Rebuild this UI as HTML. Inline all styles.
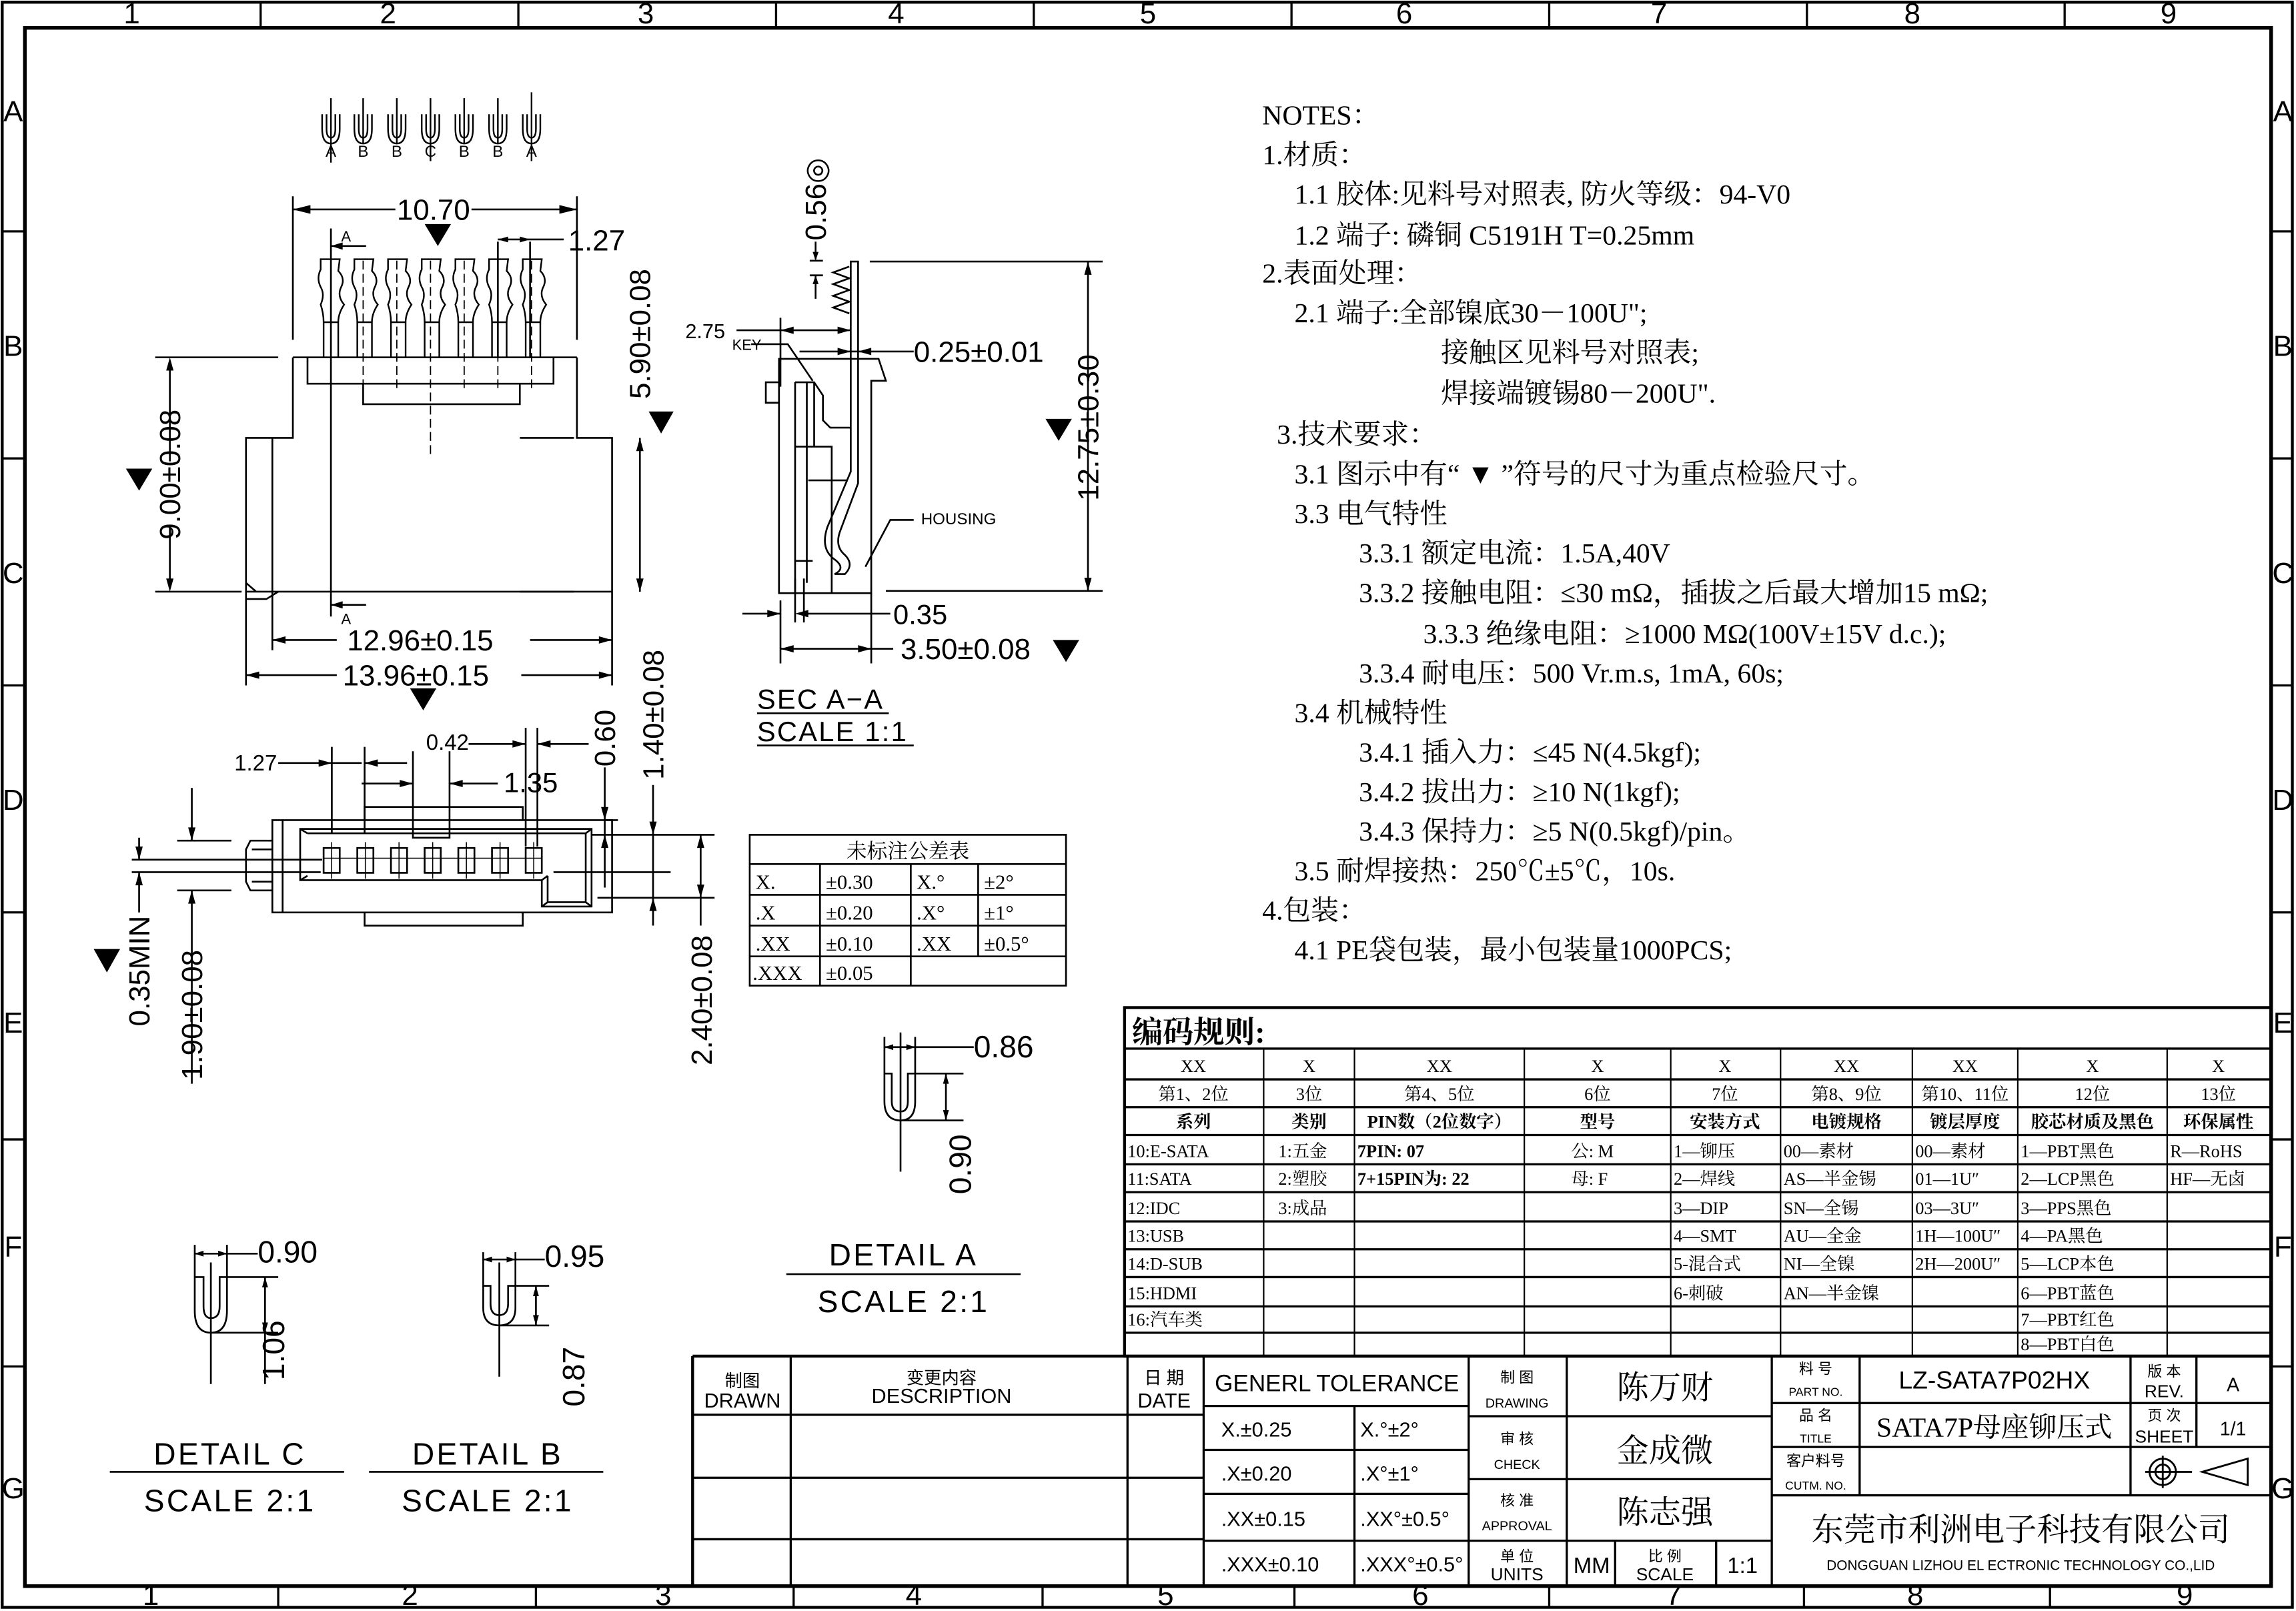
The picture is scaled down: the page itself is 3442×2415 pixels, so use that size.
<!DOCTYPE html>
<html><head><meta charset="utf-8"><style>
html,body{margin:0;padding:0;background:#fff;}
svg{display:block;}
text{fill:#000;}
.d{font-family:"Liberation Sans","DejaVu Sans",sans-serif;font-size:20px;}
.n{font-family:"Liberation Sans Narrow","Liberation Sans",sans-serif;}
.c{font-family:"Liberation Serif","Noto Serif CJK SC","Noto Sans CJK SC",serif;}
.t{font-family:"Liberation Sans Narrow","Liberation Sans","Noto Sans CJK SC",sans-serif;}
</style></head><body>
<svg width="3442" height="2415" viewBox="0 0 1568 1100" preserveAspectRatio="none" xmlns="http://www.w3.org/2000/svg">
<rect width="1568" height="1100" fill="#fff"/>
<g fill="none" stroke="#000">
<rect x="1.5" y="1.5" width="1564" height="1096" stroke-width="2"/>
<rect x="17" y="19" width="1534" height="1064" stroke-width="2.5"/>
<path d="M178,2V19M354,2V19M530,2V19M706,2V19M882,2V19M1058,2V19M1234,2V19M1410,2V19 M190,1083V1098M366,1083V1098M542,1083V1098M712,1083V1098M884,1083V1098M1058,1083V1098M1232,1083V1098M1400,1083V1098 M2,158H17M2,313H17M2,468H17M2,623H17M2,778H17M2,933H17 M1551,158H1566M1551,313H1566M1551,468H1566M1551,623H1566M1551,778H1566M1551,933H1566" stroke-width="1.5"/>
</g>
<g class="d" font-size="13" text-anchor="middle">
<text x="90" y="16">1</text><text x="265" y="16">2</text><text x="441" y="16">3</text><text x="612" y="16">4</text><text x="784" y="16">5</text><text x="959" y="16">6</text><text x="1133" y="16">7</text><text x="1306" y="16">8</text><text x="1481" y="16">9</text>
<text x="103" y="1096">1</text><text x="280" y="1096">2</text><text x="453" y="1096">3</text><text x="624" y="1096">4</text><text x="796" y="1096">5</text><text x="970" y="1096">6</text><text x="1143" y="1096">7</text><text x="1308" y="1096">8</text><text x="1492" y="1096">9</text>
<text x="9" y="83">A</text><text x="9" y="243">B</text><text x="9" y="398">C</text><text x="9" y="553">D</text><text x="9" y="705">E</text><text x="9" y="858">F</text><text x="9" y="1023">G</text>
<text x="1559" y="83">A</text><text x="1559" y="243">B</text><text x="1559" y="398">C</text><text x="1559" y="553">D</text><text x="1559" y="705">E</text><text x="1559" y="858">F</text><text x="1559" y="1023">G</text>
</g>

<g fill="none" stroke="#000" stroke-width="1.1">
<path d="M220,78V88Q220,98 226,98Q232,98 232,88V78 M223,78V88Q223,94 226,94Q229,94 229,88V78 M226,67V111"/>
<path d="M242,78V88Q242,98 248,98Q254,98 254,88V78 M245,78V88Q245,94 248,94Q251,94 251,88V78 M248,67V98"/>
<path d="M265,78V88Q265,98 271,98Q277,98 277,88V78 M268,78V88Q268,94 271,94Q274,94 274,88V78 M271,67V98"/>
<path d="M288,78V88Q288,98 294,98Q300,98 300,88V78 M291,78V88Q291,94 294,94Q297,94 297,88V78 M294,67V110"/>
<path d="M311,78V88Q311,98 317,98Q323,98 323,88V78 M314,78V88Q314,94 317,94Q320,94 320,88V78 M317,67V98"/>
<path d="M334,78V88Q334,98 340,98Q346,98 346,88V78 M337,78V88Q337,94 340,94Q343,94 343,88V78 M340,67V98"/>
<path d="M357,78V88Q357,98 363,98Q369,98 369,88V78 M360,78V88Q360,94 363,94Q366,94 366,88V78 M363,63V110"/>
</g>
<g class="n" font-size="11" text-anchor="middle"><text x="226" y="107">A</text><text x="248" y="107">B</text><text x="271" y="107">B</text><text x="294" y="107">C</text><text x="317" y="107">B</text><text x="340" y="107">B</text><text x="363" y="107">A</text></g>

<g fill="none" stroke="#000" stroke-width="1.2">
<path d="M200,134V232 M394,134V232"/>
<path d="M200,143H270 M322,143H394"/>
<path d="M200,244H394 M210,244V262H378V244 M248,262V276H355V262 M200,244V299H168V404H418V299H394V244 M186,299V444 M168,404V468 M418,404V468 M168,409L182,409L190,404 M168,398L175,404"/>
<path d="M106,244H190 M106,404H165"/>
<path d="M116,250V315 M116,360V398"/>
<path d="M355,299H392 M355,404H392"/>
<path d="M437,299V404"/>
<path d="M340,165V244 M362,165V244 M340,163.5H362 M362,163.5H385" />
<path d="M226,156V421 M226,168H250 M226,413H250" />
<path d="M186,437H230 M362,437H418" />
<path d="M168,461H230 M356,461H418" />
</g>
<path d="M200,143l12,-3v6z M394,143l-12,-3v6z M340,163.5l7,-2v4z M362,163.5l-7,-2v4z M226,168l8,-2.5v5z M226,413l8,-2.5v5z M186,437l9,-2.5v5z M418,437l-9,-2.5v5z M168,461l9,-2.5v5z M418,461l-9,-2.5v5z M116,244l-2.5,9h5z M116,404l-2.5,-9h5z M437,299l-2.5,9h5z M437,404l-2.5,-9h5z" fill="#000"/>
<g fill="none" stroke="#000" stroke-width="1.1">
<path d="M219,177H232L231,185Q236,190 233,196Q230,202 235,208Q231,214 231,220H221Q221,214 219,208Q222,201 219,196Q216,190 219,184z M221,220V244H231V220"/>
<path d="M242,177H255L254,185Q259,190 256,196Q253,202 258,208Q254,214 254,220H244Q244,214 242,208Q245,201 242,196Q239,190 242,184z M244,220V244H254V220"/>
<path d="M265,177H278L277,185Q282,190 279,196Q276,202 281,208Q277,214 277,220H267Q267,214 265,208Q268,201 265,196Q262,190 265,184z M267,220V244H277V220"/>
<path d="M288,177H301L300,185Q305,190 302,196Q299,202 304,208Q300,214 300,220H290Q290,214 288,208Q291,201 288,196Q285,190 288,184z M290,220V244H300V220"/>
<path d="M311,177H324L323,185Q328,190 325,196Q322,202 327,208Q323,214 323,220H313Q313,214 311,208Q314,201 311,196Q308,190 311,184z M313,220V244H323V220"/>
<path d="M334,177H347L346,185Q351,190 348,196Q345,202 350,208Q346,214 346,220H336Q336,214 334,208Q337,201 334,196Q331,190 334,184z M336,220V244H346V220"/>
<path d="M357,177H370L369,185Q374,190 371,196Q368,202 373,208Q369,214 369,220H359Q359,214 357,208Q360,201 357,196Q354,190 357,184z M359,220V244H369V220"/>
<path d="M248,178V268 M271,178V268 M294,178V310 M317,178V268 M340,178V268 M363,178V268" stroke-dasharray="6,3" stroke-width="0.8"/>
</g>
<g class="d">
<text x="271" y="150" font-size="20">10.70</text>
<text x="388" y="171" font-size="20">1.27</text>
<text x="233" y="165" font-size="10">A</text><text x="233" y="426" font-size="10">A</text>
<text x="237" y="444" font-size="20">12.96±0.15</text>
<text x="234" y="468" font-size="20">13.96±0.15</text>
<text transform="translate(123,324) rotate(-90)" text-anchor="middle" font-size="20">9.00±0.08</text>
<text transform="translate(444,228) rotate(-90)" text-anchor="middle" font-size="20">5.90±0.08</text>
</g>
<g fill="#000">
<path d="M290,153h18l-9,15z"/><path d="M86,320h18l-9,15z"/><path d="M443,281h17l-8.5,15z"/><path d="M280,470h18l-9,15z"/>
</g>

<g fill="none" stroke="#000" stroke-width="1.2">
<path d="M186,560H418V623H186z M193,560V623 M249,560V551H357V560 M249,623V632H357V623"/>
<path d="M186,574H171L168,580V602L171,608H186 M172,580H186 M172,602H186"/>
<path d="M205,566H404V619H370V601H205z M210,569H400V616H374V598 M205,566L210,569 M404,566L400,569 M404,619L400,616 M370,619L374,616 M205,601L210,598 M370,601L374,598"/>
<path d="M221,579h11v17h-11z M244,579h11v17h-11z M267,579h11v17h-11z M290,579h11v17h-11z M313,579h11v17h-11z M336,579h11v17h-11z M359,579h11v17h-11z"/>
<path d="M226.5,575V600 M249.5,575V600 M272.5,575V600 M295.5,575V600 M318.5,575V600 M341.5,575V600 M364.5,575V600 M221,586H370" stroke-width="0.7"/>
<path d="M282,566V572H307V566"/>
<path d="M90,587H220 M90,595.5H219 M121,574H158 M121,608H158"/>
<path d="M131,538V574 M131,608V740 M95,572V587 M95,595.5V623"/>
<path d="M226.6,510V569 M249,510V569 M190,521H247 M249,521H278"/>
<path d="M282,513V566 M307,513V566 M247,535H282 M307,535H340"/>
<path d="M359,497V578 M367,497V578 M320,508H359 M367,508H402"/>
<path d="M413,524V606 M446,536V632 M404,570H488 M408,613H488 M378,595.5H458 M413,560H422 M478.5,570V613 M478.5,613V632"/>
</g>
<path d="M226.6,521l-9,-2.5v5z M249,521l9,-2.5v5z M282,535l-9,-2.5v5z M307,535l9,-2.5v5z M359,508l-9,-2.5v5z M367,508l9,-2.5v5z M131,574l-2.5,-9h5z M131,608l-2.5,9h5z M95,587l-2.5,-9h5z M95,595.5l-2.5,9h5z M413,560l-2.5,-9h5z M413,570l-2.5,9h5z M446,570l-2.5,-9h5z M446,613l-2.5,9h5z M478.5,570l-2.5,9h5z M478.5,613l-2.5,-9h5z" fill="#000"/>
<path d="M64,648h18l-9,16z" fill="#000"/>
<g class="n" font-size="15">
<text x="160" y="526">1.27</text><text x="291" y="512">0.42</text><text x="344" y="541" font-size="19">1.35</text>
</g>
<g class="d">
<text transform="translate(420,504) rotate(-90)" text-anchor="middle" font-size="20">0.60</text>
<text transform="translate(453,488) rotate(-90)" text-anchor="middle" font-size="20">1.40±0.08</text>
<text transform="translate(486,683) rotate(-90)" text-anchor="middle" font-size="20">2.40±0.08</text>
<text transform="translate(102,663) rotate(-90)" text-anchor="middle" font-size="20">0.35MIN</text>
<text transform="translate(138,693) rotate(-90)" text-anchor="middle" font-size="20">1.90±0.08</text>
</g>

<g fill="none" stroke="#000" stroke-width="1.2">
<path d="M594,178.6H753 M605,403.5H753 M743,178.6V403.5"/>
<path d="M532,405V245H600L605,260H595V405z M532,261H523V275H532 M532,405H595"/>
<path d="M543,261H556L562,270V287L567,292H581 M543,261V405 M551,261V398 M556,261V305 M543,305H568V405 M552,328H579 M543,383H555"/>
<path d="M581,178.6V322L565,360Q560,375 570,382Q578,388 570,392H577Q584,385 576,378Q570,372 574,362L586,330V178.6z" />
<path d="M580,182L569,186L580,190L569,194L580,198L569,202L580,206L569,210L580,214"/>
<path d="M557,165V177 M557,188V204 M553,178H562 M553,188H562"/>
<path d="M533,217V264 M503,225.5H581 M513,235H538L555,260 M546,240H624"/>
<path d="M533,410V453 M595,405V453 M543,395V425 M549,395V425 M507,419H533 M549,419H608 M533,443H610"/>
<path d="M591,387L608,355H624"/>
</g>
<path d="M743,178.6l-2.5,9h5z M743,403.5l-2.5,-9h5z M533,225.5l9,-2.5v5z M581,225.5l-9,-2.5v5z M581,240l-9,-2.5v5z M586,240l9,-2.5v5z M533,419l-9,-2.5v5z M543,419l9,-2.5v5z M533,443l9,-2.5v5z M595,443l-9,-2.5v5z M557,178l-2,-6h4z M557,188l-2,6h4z" fill="#000"/>
<path d="M714,286h18l-9,15z M719,437h18l-9,15z" fill="#000"/>
<g class="d">
<text x="468" y="231" font-size="14">2.75</text><text x="500" y="239" font-size="10">KEY</text>
<text x="624" y="247" font-size="20">0.25±0.01</text>
<text x="629" y="358" font-size="11">HOUSING</text>
<text x="610" y="426" font-size="19">0.35</text>
<text x="615" y="450" font-size="20">3.50±0.08</text>
<text transform="translate(564,136) rotate(-90)" text-anchor="middle" font-size="20">0.56◎</text>
<text transform="translate(750,292) rotate(-90)" text-anchor="middle" font-size="20">12.75±0.30</text>
<text x="517" y="484" font-size="19" letter-spacing="1">SEC A−A</text>
<text x="517" y="506" font-size="19" letter-spacing="1">SCALE 1:1</text>
</g>
<path d="M517,487H607 M517,509H624" stroke="#000" stroke-width="1.2"/>

<g fill="none" stroke="#000" stroke-width="1.2">
<rect x="512" y="570" width="216" height="103"/>
<path d="M512,590H728 M512,611H728 M512,632H728 M512,653H728 M560,590V673 M622,590V673 M668,590V653"/>
</g>
<g class="c" font-size="14">
<text x="620" y="586" text-anchor="middle">未标注公差表</text>
<text x="516" y="607">X.</text><text x="564" y="607">±0.30</text><text x="626" y="607">X.°</text><text x="672" y="607">±2°</text>
<text x="516" y="628">.X</text><text x="564" y="628">±0.20</text><text x="626" y="628">.X°</text><text x="672" y="628">±1°</text>
<text x="516" y="649">.XX</text><text x="564" y="649">±0.10</text><text x="626" y="649">.XX</text><text x="672" y="649">±0.5°</text>
<text x="514" y="669">.XXX</text><text x="564" y="669">±0.05</text>
</g>

<g fill="none" stroke="#000" stroke-width="1.2">
<path d="M604,733V752Q604,765 615,765Q625,765 625,752V733H620V752Q620,759 615,759Q609,759 609,752V733z M615,705V800 M604,708V733 M625,708V733 M604,715H625 M625,715H665 M625,733H658 M615,765H658 M646,733V765"/>
<path d="M133,872V895Q133,910 144,910Q155,910 155,895V872H150V892Q150,900 144,900Q139,900 139,892V872z M144,862V945 M133,850V872 M155,850V872 M133,856H176 M155,872H190 M144,910H190 M181,872V945"/>
<path d="M330,878V893Q330,905 341,905Q352,905 352,893V878H347V890Q347,898 341,898Q335,898 335,890V878z M341,862V940 M330,855V878 M352,855V878 M330,860H372 M352,878H375 M341,905H375 M366,878V905"/>
<path d="M537,870H697 M75,1005H235 M252,1005H412"/>
</g>
<path d="M604,715l6,-2v4z M625,715l-6,-2v4z M646,733l-2,7h4z M646,765l-2,-7h4z M133,856l6,-2v4z M155,856l-6,-2v4z M181,872l-2,7h4z M181,910l-2,-7h4z M330,860l6,-2v4z M352,860l-6,-2v4z M366,878l-2,7h4z M366,905l-2,-7h4z" fill="#000"/>
<g class="d">
<text x="665" y="722" font-size="21">0.86</text>
<text transform="translate(663,795) rotate(-90)" text-anchor="middle" font-size="21">0.90</text>
<text x="176" y="862" font-size="21">0.90</text>
<text transform="translate(194,922) rotate(-90)" text-anchor="middle" font-size="21">1.06</text>
<text x="372" y="865" font-size="21">0.95</text>
<text transform="translate(399,940) rotate(-90)" text-anchor="middle" font-size="21">0.87</text>
<g class="n" font-size="21" letter-spacing="1.5" text-anchor="middle">
<text x="617" y="864">DETAIL A</text><text x="617" y="896">SCALE 2:1</text>
<text x="157" y="1000">DETAIL C</text><text x="157" y="1032">SCALE 2:1</text>
<text x="333" y="1000">DETAIL B</text><text x="333" y="1032">SCALE 2:1</text>
</g>
</g>

<g class="c" font-size="19">
<text x="862" y="85">NOTES：</text>
<text x="862" y="112">1.材质：</text>
<text x="884" y="139">1.1 胶体:见料号对照表, 防火等级：94-V0</text>
<text x="884" y="167">1.2 端子: 磷铜 C5191H T=0.25mm</text>
<text x="862" y="193">2.表面处理：</text>
<text x="884" y="220">2.1 端子:全部镍底30－100U";</text>
<text x="984" y="247">接触区见料号对照表;</text>
<text x="984" y="275">焊接端镀锡80－200U".</text>
<text x="872" y="303">3.技术要求：</text>
<text x="884" y="330">3.1 图示中有“ ▼ ”符号的尺寸为重点检验尺寸。</text>
<text x="884" y="357">3.3 电气特性</text>
<text x="928" y="384">3.3.1 额定电流：1.5A,40V</text>
<text x="928" y="411">3.3.2 接触电阻：≤30 mΩ，插拔之后最大增加15 mΩ;</text>
<text x="972" y="439">3.3.3 绝缘电阻：≥1000 MΩ(100V±15V d.c.);</text>
<text x="928" y="466">3.3.4 耐电压：500 Vr.m.s, 1mA, 60s;</text>
<text x="884" y="493">3.4 机械特性</text>
<text x="928" y="520">3.4.1 插入力：≤45 N(4.5kgf);</text>
<text x="928" y="547">3.4.2 拔出力：≥10 N(1kgf);</text>
<text x="928" y="574">3.4.3 保持力：≥5 N(0.5kgf)/pin。</text>
<text x="884" y="601">3.5 耐焊接热：250℃±5℃，10s.</text>
<text x="862" y="628">4.包装：</text>
<text x="884" y="655">4.1 PE袋包装，最小包装量1000PCS;</text>
</g>

<g fill="none" stroke="#000">
<rect x="768" y="688" width="783" height="238" stroke-width="2"/>
<path d="M768,716H1551 M768,737H1551 M768,756H1551 M768,775H1551 M768,795H1551 M768,814H1551 M768,834H1551 M768,853H1551 M768,872H1551 M768,892H1551 M768,910H1551" stroke-width="1.5"/>
<path d="M863,716V926 M925,716V926 M1041,716V926 M1141,716V926 M1216,716V926 M1306,716V926 M1378,716V926 M1480,716V926" stroke-width="1"/>
</g>
<g class="c" font-size="12" text-anchor="middle">
<text x="773" y="712" text-anchor="start" font-size="21" font-weight="bold">编码规则:</text>
<text x="815" y="732">XX</text><text x="894" y="732">X</text><text x="983" y="732">XX</text><text x="1091" y="732">X</text><text x="1178" y="732">X</text><text x="1261" y="732">XX</text><text x="1342" y="732">XX</text><text x="1429" y="732">X</text><text x="1515" y="732">X</text>
<text x="815" y="751">第1、2位</text><text x="894" y="751">3位</text><text x="983" y="751">第4、5位</text><text x="1091" y="751">6位</text><text x="1178" y="751">7位</text><text x="1261" y="751">第8、9位</text><text x="1342" y="751">第10、11位</text><text x="1429" y="751">12位</text><text x="1515" y="751">13位</text>
<g font-weight="bold"><text x="815" y="770">系列</text><text x="894" y="770">类别</text><text x="983" y="770">PIN数（2位数字）</text><text x="1091" y="770">型号</text><text x="1178" y="770">安装方式</text><text x="1261" y="770">电镀规格</text><text x="1342" y="770">镀层厚度</text><text x="1429" y="770">胶芯材质及黑色</text><text x="1515" y="770">环保属性</text></g>
</g>
<g class="c" font-size="12">
<text x="770" y="790">10:E-SATA</text><text x="873" y="790">1:五金</text><text x="927" y="790" font-weight="bold">7PIN: 07</text><text x="1073" y="790">公: M</text><text x="1143" y="790">1—铆压</text><text x="1218" y="790">00—素材</text><text x="1308" y="790">00—素材</text><text x="1380" y="790">1—PBT黑色</text><text x="1482" y="790">R—RoHS</text>
<text x="770" y="809">11:SATA</text><text x="873" y="809">2:塑胶</text><text x="927" y="809" font-weight="bold">7+15PIN为: 22</text><text x="1073" y="809">母: F</text><text x="1143" y="809">2—焊线</text><text x="1218" y="809">AS—半金锡</text><text x="1308" y="809">01—1U″</text><text x="1380" y="809">2—LCP黑色</text><text x="1482" y="809">HF—无卤</text>
<text x="770" y="829">12:IDC</text><text x="873" y="829">3:成品</text><text x="1143" y="829">3—DIP</text><text x="1218" y="829">SN—全锡</text><text x="1308" y="829">03—3U″</text><text x="1380" y="829">3—PPS黑色</text>
<text x="770" y="848">13:USB</text><text x="1143" y="848">4—SMT</text><text x="1218" y="848">AU—全金</text><text x="1308" y="848">1H—100U″</text><text x="1380" y="848">4—PA黑色</text>
<text x="770" y="867">14:D-SUB</text><text x="1143" y="867">5-混合式</text><text x="1218" y="867">NI—全镍</text><text x="1308" y="867">2H—200U″</text><text x="1380" y="867">5—LCP本色</text>
<text x="770" y="887">15:HDMI</text><text x="1143" y="887">6-刺破</text><text x="1218" y="887">AN—半金镍</text><text x="1380" y="887">6—PBT蓝色</text>
<text x="770" y="905">16:汽车类</text><text x="1380" y="905">7—PBT红色</text>
<text x="1380" y="922">8—PBT白色</text>
</g>

<g fill="none" stroke="#000">
<path d="M473,926H1551 M473,926V1083" stroke-width="2"/>
<path d="M473,966H822 M473,1009H822 M473,1051H822 M540,926V1083 M770,926V1083 M822,926V1083" stroke-width="1.5"/>
<path d="M822,960H1003 M822,990H1003 M822,1020H1003 M822,1052H1003 M925,960V1083 M1003,926V1083" stroke-width="1.5"/>
<path d="M1003,967H1210 M1003,1010H1210 M1003,1052H1210 M1070,926V1083 M1103,1052V1083 M1172,1052V1083 M1210,926V1083" stroke-width="1.5"/>
<path d="M1210,958H1551 M1210,988H1551 M1210,1021H1551 M1270,926V1021 M1455,926V1021 M1500,926V988" stroke-width="1.5"/>
<path d="M1465,1005H1497 M1477,994V1016 M1504,1005L1535,996V1014z" stroke-width="1.3"/>
<circle cx="1477" cy="1005" r="9" stroke-width="1.3"/><circle cx="1477" cy="1005" r="5" stroke-width="1.3"/>
</g>
<g class="t" text-anchor="middle">
<text x="507" y="947" font-size="12">制图</text><text x="507" y="961" font-size="14">DRAWN</text>
<text x="643" y="945" font-size="12">变更内容</text><text x="643" y="958" font-size="14">DESCRIPTION</text>
<text x="795" y="945" font-size="12">日 期</text><text x="795" y="961" font-size="14">DATE</text>
<text x="913" y="950" font-size="16">GENERL  TOLERANCE</text>
<text x="834" y="981" font-size="14" text-anchor="start">X.±0.25</text><text x="929" y="981" font-size="14" text-anchor="start">X.°±2°</text>
<text x="834" y="1011" font-size="14" text-anchor="start">.X±0.20</text><text x="929" y="1011" font-size="14" text-anchor="start">.X°±1°</text>
<text x="834" y="1042" font-size="14" text-anchor="start">.XX±0.15</text><text x="929" y="1042" font-size="14" text-anchor="start">.XX°±0.5°</text>
<text x="834" y="1073" font-size="14" text-anchor="start">.XXX±0.10</text><text x="929" y="1073" font-size="14" text-anchor="start">.XXX°±0.5°</text>
<text x="1036" y="944" font-size="10">制  图</text><text x="1036" y="961" font-size="9">DRAWING</text>
<text x="1036" y="986" font-size="10">审  核</text><text x="1036" y="1003" font-size="9">CHECK</text>
<text x="1036" y="1028" font-size="10">核  准</text><text x="1036" y="1045" font-size="9">APPROVAL</text>
<text x="1036" y="1066" font-size="10">单 位</text><text x="1036" y="1079" font-size="12">UNITS</text>
<text x="1087" y="1074" font-size="15">MM</text>
<text x="1137" y="1066" font-size="10">比 例</text><text x="1137" y="1079" font-size="12">SCALE</text>
<text x="1190" y="1074" font-size="15">1:1</text>
<text x="1240" y="938" font-size="10">料 号</text><text x="1240" y="953" font-size="8">PART NO.</text>
<text x="1240" y="970" font-size="10">品 名</text><text x="1240" y="985" font-size="8">TITLE</text>
<text x="1240" y="1001" font-size="10">客户料号</text><text x="1240" y="1017" font-size="8">CUTM. NO.</text>
<text x="1362" y="948" font-size="17">LZ-SATA7P02HX</text>
<text x="1478" y="940" font-size="10">版 本</text><text x="1478" y="954" font-size="12">REV.</text><text x="1525" y="950" font-size="13">A</text>
<text x="1478" y="970" font-size="10">页 次</text><text x="1478" y="985" font-size="12">SHEET</text><text x="1525" y="980" font-size="13">1/1</text>
<text x="1380" y="1072" font-size="9.5">DONGGUAN LIZHOU EL ECTRONIC TECHNOLOGY CO.,LID</text>
</g>
<g class="c" text-anchor="middle">
<text x="1137" y="955" font-size="22">陈万财</text>
<text x="1137" y="998" font-size="22">金成微</text>
<text x="1137" y="1040" font-size="22">陈志强</text>
<text x="1362" y="981" font-size="19">SATA7P母座铆压式</text>
<text x="1380" y="1052" font-size="22">东莞市利洲电子科技有限公司</text>
</g>
</svg>
</body></html>
